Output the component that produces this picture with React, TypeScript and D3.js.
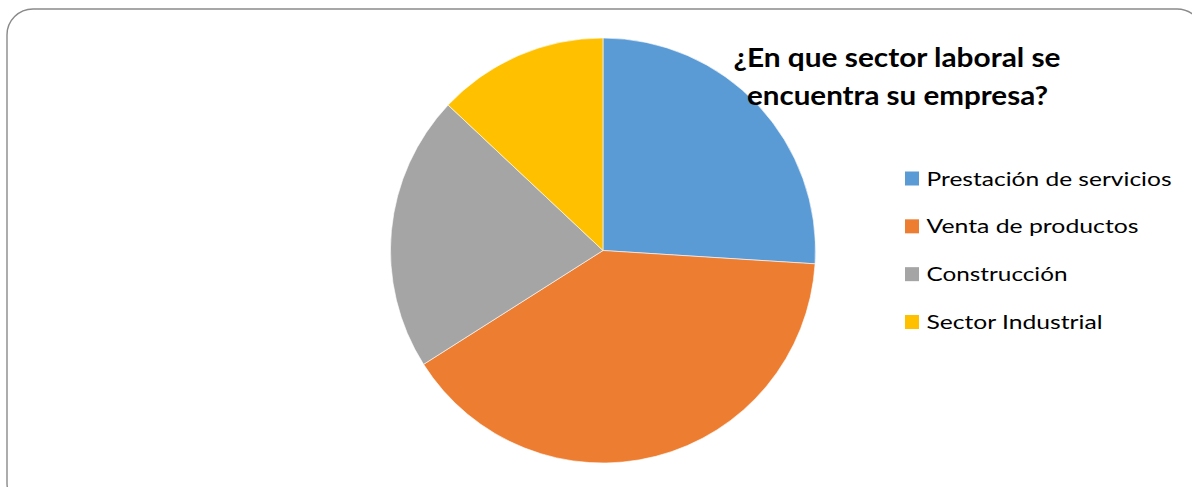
import React from "react";
import * as d3 from "d3";

const categories = ["Prestación de servicios", "Venta de productos", "Construcción", "Sector Industrial"];
const values = [26, 40, 21, 13];
const colors = ["#5B9BD5", "#ED7D31", "#A5A5A5", "#FFC000"];
const titleLines = ["¿En que sector laboral se", "encuentra su empresa?"];
const legendWidths = [245, 212, 141, 176];

export default function App() {
  const W = 1192, H = 487;
  const cx = 603, cy = 250.5, r = 212.5;
  const pie = d3.pie<number>().sort(null).value((d) => d);
  const arcs = pie(values);
  const arc = d3.arc<d3.PieArcDatum<number>>().innerRadius(0).outerRadius(r);
  const legendY = d3.scalePoint<string>().domain(categories).range([178.5, 322]);
  return (
    <svg width={W} height={H} style={{ position: "absolute", left: 0, top: 0, background: "#fff" }}>
      <rect x={7} y={9} width={1196} height={500} rx={26} ry={26} fill="#fff" stroke="#8a8a8a" strokeWidth={1.4} />
      <g transform={`translate(${cx},${cy})`}>
        {arcs.map((a, i) => (
          <path key={i} d={arc(a) || ""} fill={colors[i]} stroke="#fff" strokeWidth={0.6} />
        ))}
      </g>
      <g fontFamily="Lato, 'Open Sans', sans-serif" fontWeight="bold" fontSize={27} fill="#000" textAnchor="middle">
        <text x={897} y={67} textLength={327} lengthAdjust="spacingAndGlyphs">{titleLines[0]}</text>
        <text x={897.5} y={105} textLength={301} lengthAdjust="spacingAndGlyphs">{titleLines[1]}</text>
      </g>
      <g fontFamily="Lato, 'Open Sans', sans-serif" fontSize={19.5} fill="#000">
        {categories.map((c, i) => {
          const y = legendY(c) as number;
          return (
            <g key={c}>
              <rect x={905} y={y - 7} width={14} height={14} fill={colors[i]} />
              <text x={926.5} y={y + 7} textLength={legendWidths[i]} lengthAdjust="spacingAndGlyphs">{c}</text>
            </g>
          );
        })}
      </g>
    </svg>
  );
}
